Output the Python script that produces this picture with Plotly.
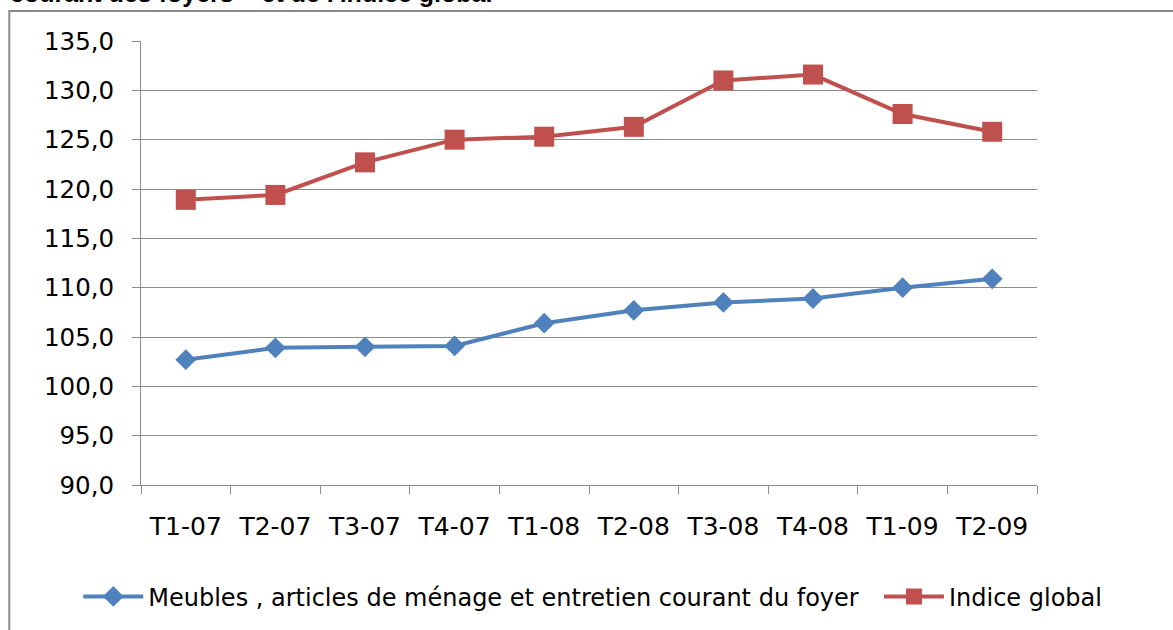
import plotly.graph_objects as go

# Trimestres et indices
trimestres = ["T1-07", "T2-07", "T3-07", "T4-07", "T1-08",
              "T2-08", "T3-08", "T4-08", "T1-09", "T2-09"]
meubles = [102.7, 103.9, 104.0, 104.1, 106.4, 107.7, 108.5, 108.9, 110.0, 110.9]
indice_global = [118.9, 119.4, 122.7, 125.0, 125.3, 126.3, 131.0, 131.6, 127.6, 125.8]
y_ticks = [90, 95, 100, 105, 110, 115, 120, 125, 130, 135]
y_labels = [f"{v:.1f}".replace(".", ",") for v in y_ticks]

GRID = "#8c8c8c"
FONT = "DejaVu Sans, Verdana, sans-serif"

fig = go.Figure()
fig.add_trace(
    go.Scatter(
        x=trimestres,
        y=meubles,
        mode="lines+markers",
        name="Meubles , articles de ménage et entretien courant du foyer&nbsp;&nbsp;",
        line=dict(color="#4F81BD", width=4),
        marker=dict(symbol="diamond", size=16, color="#4F81BD"),
    )
)
fig.add_trace(
    go.Scatter(
        x=trimestres,
        y=indice_global,
        mode="lines+markers",
        name="Indice global",
        line=dict(color="#C0504D", width=4),
        marker=dict(symbol="square", size=20, color="#C0504D"),
    )
)

fig.update_layout(
    width=1173,
    height=630,
    margin=dict(l=141, r=136, t=41, b=144),
    paper_bgcolor="white",
    plot_bgcolor="white",
    font=dict(family=FONT, size=22, color="#000000"),
    showlegend=True,
    legend=dict(
        orientation="h",
        x=-0.07,
        xanchor="left",
        y=-0.249,
        yanchor="middle",
        font=dict(size=24),
        itemwidth=60,
        tracegroupgap=0,
        bgcolor="rgba(0,0,0,0)",
    ),
    xaxis=dict(
        type="category",
        range=[-0.5, 9.5],
        showgrid=False,
        showline=True,
        linecolor=GRID,
        linewidth=1,
        ticks="outside",
        tickson="boundaries",
        ticklen=8,
        tickcolor=GRID,
        tickfont=dict(size=25),
        ticklabelstandoff=19,
    ),
    yaxis=dict(
        range=[90, 135],
        tickvals=y_ticks,
        ticktext=y_labels,
        showgrid=True,
        gridcolor=GRID,
        gridwidth=1,
        showline=True,
        linecolor=GRID,
        linewidth=1,
        ticks="outside",
        ticklen=8,
        tickcolor=GRID,
        tickfont=dict(size=24.5),
        ticklabelstandoff=13,
        zeroline=False,
    ),
)

# Cadre du graphique (coupé à droite et en bas, comme sur l'original)
fig.add_shape(
    type="rect",
    xref="paper", yref="paper",
    x0=-0.147, x1=1.3, y0=-0.5, y1=1.0674,
    line=dict(color="#8c8c8c", width=2),
    layer="below",
)

# Titre coupé en haut de l'image
fig.add_annotation(
    text="<b>courant des foyers » et de l'indice global</b>",
    xref="paper", yref="paper",
    x=-0.148, y=1.073,
    xanchor="left", yanchor="bottom",
    showarrow=False,
    font=dict(family="Liberation Sans, Arial, sans-serif", size=25, color="#000000"),
)

fig.write_html(
    "out.html",
    config={"displayModeBar": False},
    post_script="document.body.style.margin = '0px';",
)
